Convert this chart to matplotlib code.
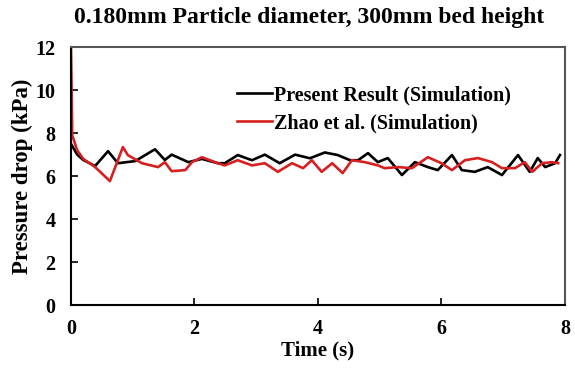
import matplotlib.pyplot as plt

plt.rcParams['font.family'] = ['Liberation Serif', 'DejaVu Serif']
plt.rcParams['font.weight'] = 'bold'

# present result (simulation)
t_present = [0.0, 0.1, 0.2, 0.39, 0.6, 0.76, 1.04, 1.36, 1.52, 1.63, 1.9, 2.12, 2.38,
             2.49, 2.7, 2.93, 3.14, 3.38, 3.63, 3.87, 4.11, 4.32, 4.52, 4.65, 4.81, 4.97,
             5.13, 5.2, 5.36, 5.57, 5.78, 5.94, 6.17, 6.33, 6.54, 6.75, 6.98, 7.24, 7.43,
             7.56, 7.68, 7.84, 7.92]
p_present = [7.5, 7.0, 6.75, 6.47, 7.16, 6.6, 6.7, 7.25, 6.75, 7.0, 6.65, 6.8, 6.6,
             6.6, 6.98, 6.74, 7.0, 6.6, 7.0, 6.83, 7.1, 6.98, 6.74, 6.74, 7.07, 6.65,
             6.84, 6.6, 6.05, 6.65, 6.42, 6.28, 6.98, 6.28, 6.2, 6.42, 6.05, 6.98, 6.2,
             6.84, 6.42, 6.6, 6.98]

# Zhao et al. (simulation)
t_zhao = [0.0, 0.02, 0.1, 0.2, 0.39, 0.63, 0.84, 0.92, 1.15, 1.41, 1.52, 1.63, 1.85,
          1.96, 2.12, 2.38, 2.49, 2.7, 2.93, 3.14, 3.35, 3.58, 3.76, 3.9, 4.06, 4.23,
          4.4, 4.55, 4.76, 4.97, 5.08, 5.3, 5.52, 5.78, 6.0, 6.17, 6.38, 6.59, 6.82,
          6.98, 7.19, 7.35, 7.47, 7.63, 7.79, 7.89]
p_zhao = [12.0, 7.9, 7.2, 6.8, 6.42, 5.77, 7.35, 6.98, 6.6, 6.42, 6.65, 6.23, 6.28,
          6.65, 6.88, 6.6, 6.5, 6.74, 6.5, 6.6, 6.2, 6.6, 6.37, 6.74, 6.2, 6.6,
          6.14, 6.74, 6.65, 6.5, 6.37, 6.42, 6.37, 6.88, 6.6, 6.28, 6.74, 6.84, 6.65,
          6.37, 6.37, 6.65, 6.2, 6.6, 6.65, 6.6]

fig = plt.figure(figsize=(5.75, 3.8), dpi=100)
ax = fig.add_axes([0.1235, 0.197, 0.859, 0.679])

ax.plot(t_present, p_present, color='black', lw=1.9, label='Present Result (Simulation)')
ax.plot(t_zhao, p_zhao, color='#d62020', lw=1.9, label='Zhao et al. (Simulation)')

ax.set_xlim(0, 8)
ax.set_ylim(0, 12)
ax.set_xticks([0, 2, 4, 6, 8])
ax.set_yticks([0, 2, 4, 6, 8, 10, 12])
ax.tick_params(direction='in', length=5, width=1.2, labelsize=14.5)
ax.tick_params(axis='y', pad=11)
ax.tick_params(axis='x', pad=10)
for s in ax.spines.values():
    s.set_linewidth(1.5)
ax.spines['right'].set_color('#555555')
ax.spines['top'].set_color('#555555')

ax.set_xlabel('Time (s)', fontsize=15, fontweight='bold', labelpad=1)
ax.set_ylabel('Pressure drop (kPa)', fontsize=16.5, fontweight='bold', labelpad=2)
fig.text(0.537, 0.955, '0.180mm Particle diameter, 300mm bed height', fontsize=17,
         fontweight='bold', ha='center', va='center')

fig.legend(loc='center left', bbox_to_anchor=(0.381, 0.713), frameon=False,
           fontsize=14.5, handlelength=1.75, handletextpad=0.1, labelspacing=0.4,
           borderpad=0.4)

fig.savefig('out.png', dpi=100)
